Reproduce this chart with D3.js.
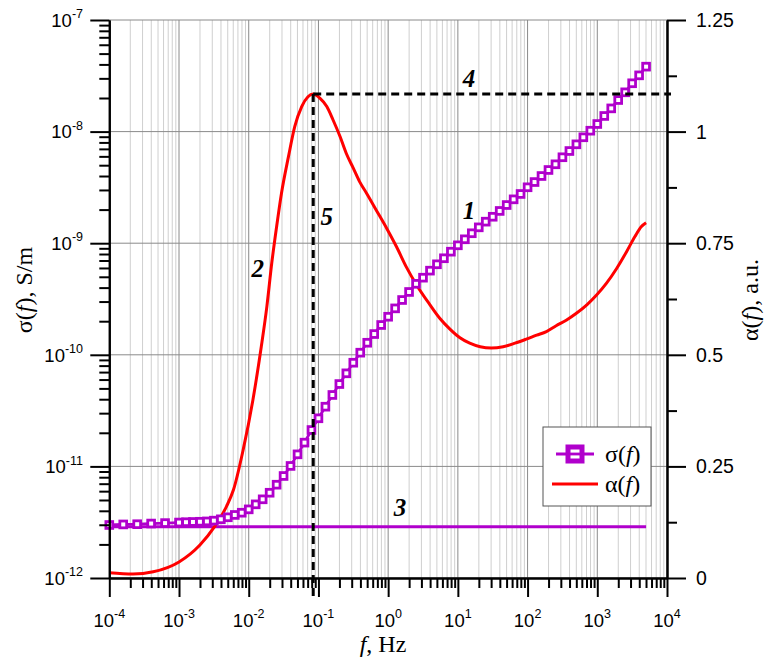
<!DOCTYPE html>
<html><head><meta charset="utf-8">
<script src="https://cdn.jsdelivr.net/npm/d3@7"></script>
<style>body{margin:0;background:#fff}</style>
</head><body>
<svg id="c" width="765" height="658"></svg>
<script>
// ---------------- data ----------------
// sigma(f): log10 of frequency (Hz) and log10 of conductivity (S/m)
const sigmaLogF = [-4,-3.8,-3.6,-3.4,-3.2,-3.0,-2.9,-2.8,-2.7,-2.6,-2.5,-2.4,-2.3,-2.2,-2.1,-2.0,-1.9,-1.8,-1.7,-1.6,-1.5,-1.4,-1.3,-1.2,-1.1,-1.0,-0.9,-0.8,-0.7,-0.6,-0.5,-0.4,-0.3,-0.2,-0.1,0.0,0.1,0.2,0.3,0.4,0.5,0.6,0.7,0.8,0.9,1.0,1.1,1.2,1.3,1.4,1.5,1.6,1.7,1.8,1.9,2.0,2.1,2.2,2.3,2.4,2.5,2.6,2.7,2.8,2.9,3.0,3.1,3.2,3.3,3.4,3.5,3.6,3.7];
const sigmaLogS = [-11.525,-11.520,-11.518,-11.512,-11.508,-11.503,-11.500,-11.498,-11.496,-11.493,-11.486,-11.474,-11.456,-11.435,-11.415,-11.385,-11.340,-11.295,-11.236,-11.164,-11.086,-10.996,-10.892,-10.787,-10.674,-10.569,-10.465,-10.360,-10.262,-10.166,-10.071,-9.981,-9.892,-9.814,-9.733,-9.659,-9.584,-9.509,-9.437,-9.364,-9.309,-9.246,-9.189,-9.135,-9.076,-9.019,-8.965,-8.911,-8.858,-8.807,-8.763,-8.711,-8.658,-8.607,-8.559,-8.499,-8.452,-8.398,-8.344,-8.293,-8.230,-8.174,-8.114,-8.051,-7.992,-7.932,-7.860,-7.792,-7.717,-7.648,-7.567,-7.496,-7.418];
// DC conductivity level (line 3)
const sigmaDcLogS = -11.54;
const sigmaDcLogF = [-4, 3.7];
// alpha(f): log10 frequency and alpha value (a.u.)
const alphaLogF = [-4.0,-3.66,-3.37,-3.0,-2.70,-2.49,-2.32,-2.22,-2.08,-1.94,-1.82,-1.74,-1.67,-1.60,-1.53,-1.43,-1.34,-1.24,-1.15,-1.075,-0.98,-0.88,-0.79,-0.69,-0.60,-0.50,-0.41,-0.31,-0.17,-0.02,0.12,0.26,0.41,0.60,0.74,0.89,1.03,1.17,1.32,1.48,1.65,1.82,1.98,2.13,2.27,2.41,2.56,2.70,2.85,2.99,3.13,3.28,3.42,3.54,3.63,3.70];
const alphaVal = [0.012,0.009,0.014,0.036,0.074,0.115,0.160,0.197,0.287,0.399,0.518,0.608,0.705,0.787,0.862,0.944,1.011,1.056,1.078,1.084,1.075,1.056,1.026,0.989,0.951,0.918,0.888,0.862,0.824,0.783,0.742,0.697,0.656,0.612,0.582,0.557,0.538,0.526,0.518,0.515,0.518,0.526,0.535,0.544,0.552,0.565,0.578,0.593,0.612,0.634,0.660,0.694,0.731,0.765,0.787,0.796];
// peak marker (lines 4 and 5)
const peakLogF = -1.075;
const peakAlpha = 1.084;
// tick labels
const xExps = [-4,-3,-2,-1,0,1,2,3,4];
const yExps = [-12,-11,-10,-9,-8,-7];
const rTicks = [0,0.25,0.5,0.75,1,1.25];
const rTickLabels = ["0","0.25","0.5","0.75","1","1.25"];
const rMinor = [0.125,0.375,0.625,0.875,1.125];
// curve labels
const curveLabels = [
  {t:"1", lf:1.16, a:0.824},
  {t:"2", lf:-1.87, a:0.694},
  {t:"3", lf:0.17, a:0.157},
  {t:"4", lf:1.16, a:1.12},
  {t:"5", lf:-0.88, a:0.809}
];

// ---------------- chart ----------------
const svg = d3.select("#c");
const L = 109.3, R = 667, T = 20, B = 578;
const x = d3.scaleLog().domain([1e-4, 1e4]).range([L, R]);
const yL = d3.scaleLog().domain([1e-12, 1e-7]).range([B, T]);
const yR = d3.scaleLinear().domain([0, 1.25]).range([B, T]);
const P = e => Math.pow(10, e);
const purple = "#b000cc";
const sans = "'Liberation Sans', Arial, sans-serif";
const serif = "'Liberation Serif', 'Times New Roman', serif";

const xMinor = [];
for (let e = -4; e < 4; e++) for (let m = 2; m <= 9; m++) xMinor.push(m * P(e));
const yMinor = [];
for (let e = -12; e < -7; e++) for (let m = 2; m <= 9; m++) yMinor.push(m * P(e));
const xMajor = xExps.map(P);
const yMajor = yExps.map(P);

// grid
const g = svg.append("g");
g.selectAll(".vmin").data(xMinor).join("line")
  .attr("x1", d => x(d)).attr("x2", d => x(d)).attr("y1", T).attr("y2", B)
  .attr("stroke", "#cfcfcf").attr("stroke-width", 1);
g.selectAll(".vmaj").data(xMajor).join("line")
  .attr("x1", d => x(d)).attr("x2", d => x(d)).attr("y1", T).attr("y2", B)
  .attr("stroke", "#8a8a8a").attr("stroke-width", 1);
g.selectAll(".hmaj").data(yMajor).join("line")
  .attr("x1", L).attr("x2", R).attr("y1", d => yL(d)).attr("y2", d => yL(d))
  .attr("stroke", "#8a8a8a").attr("stroke-width", 1);

// DC line (3)
svg.append("line")
  .attr("x1", x(P(sigmaDcLogF[0]))).attr("x2", x(P(sigmaDcLogF[1])))
  .attr("y1", yL(P(sigmaDcLogS))).attr("y2", yL(P(sigmaDcLogS)))
  .attr("stroke", purple).attr("stroke-width", 3);

// alpha curve
const aPts = alphaLogF.map((lf, i) => [x(P(lf)), yR(alphaVal[i])]);
svg.append("path").attr("d", d3.line().curve(d3.curveMonotoneX)(aPts))
  .attr("fill", "none").attr("stroke", "#ff0000").attr("stroke-width", 3);

// sigma curve
const sPts = sigmaLogF.map((lf, i) => [x(P(lf)), yL(P(sigmaLogS[i]))]);
svg.append("path").attr("d", d3.line()(sPts))
  .attr("fill", "none").attr("stroke", purple).attr("stroke-width", 2.8);
svg.selectAll(".mk").data(sPts).join("rect")
  .attr("x", d => d[0] - 3.4).attr("y", d => d[1] - 3.4)
  .attr("width", 6.8).attr("height", 6.8)
  .attr("fill", "#fff").attr("stroke", purple).attr("stroke-width", 2.8);

// dashed peak lines (4, 5)
const px = x(P(peakLogF)), py = yR(peakAlpha);
svg.append("line").attr("x1", px).attr("x2", px).attr("y1", py).attr("y2", B + 19)
  .attr("stroke", "#000").attr("stroke-width", 3).attr("stroke-dasharray", "8,5");
svg.append("line").attr("x1", px).attr("x2", R + 4).attr("y1", py).attr("y2", py)
  .attr("stroke", "#000").attr("stroke-width", 3).attr("stroke-dasharray", "8,5");

// axes
function axisPair(axisFn, scale, major, minor, transform) {
  const a1 = svg.append("g").attr("transform", transform)
    .call(axisFn(scale).tickValues(major).tickSize(19).tickSizeOuter(0).tickFormat(""));
  const a2 = svg.append("g").attr("transform", transform)
    .call(axisFn(scale).tickValues(minor).tickSize(10).tickSizeOuter(0).tickFormat(""));
  [a1, a2].forEach(a => {
    a.selectAll("line").attr("stroke", "#000").attr("stroke-width", 2);
    a.select(".domain").attr("stroke", "#000").attr("stroke-width", 2);
  });
}
axisPair(d3.axisBottom, x, xMajor, xMinor, `translate(0,${B})`);
axisPair(d3.axisLeft, yL, yMajor, yMinor, `translate(${L},0)`);
axisPair(d3.axisRight, yR, rTicks, rMinor, `translate(${R},0)`);

// tick labels
xExps.forEach(e => {
  const t = svg.append("text").attr("x", x(P(e))).attr("y", 627)
    .attr("text-anchor", "middle").attr("font-family", sans).attr("font-size", 18.5).attr("fill", "#000");
  t.append("tspan").text("10");
  t.append("tspan").attr("dy", -8.7).attr("font-size", 12.5).text(String(e));
});
yExps.forEach(e => {
  const t = svg.append("text").attr("x", 83).attr("y", yL(P(e)) + 6.8)
    .attr("text-anchor", "end").attr("font-family", sans).attr("font-size", 18.5).attr("fill", "#000");
  t.append("tspan").text("10");
  t.append("tspan").attr("dy", -8.7).attr("font-size", 12.5).text(String(e));
});
rTicks.forEach((v, i) => {
  svg.append("text").attr("x", 696).attr("y", yR(v) + 7)
    .attr("font-family", sans).attr("font-size", 19.5).attr("fill", "#000").text(rTickLabels[i]);
});

// axis titles
function rich(sel, parts) {
  parts.forEach(p => {
    const ts = sel.append("tspan").text(p[0]);
    if (p[1]) ts.attr("font-style", "italic");
  });
}
const tl = svg.append("text").attr("transform", "translate(32,290) rotate(-90)")
  .attr("text-anchor", "middle").attr("font-family", serif).attr("font-size", 24).attr("fill", "#000");
rich(tl, [["σ(", 0], ["f", 1], ["), S/m", 0]]);
const tr = svg.append("text").attr("transform", "translate(758,300) rotate(-90)")
  .attr("text-anchor", "middle").attr("font-family", serif).attr("font-size", 24).attr("fill", "#000");
rich(tr, [["α(", 0], ["f", 1], ["), a.u.", 0]]);
const tb = svg.append("text").attr("x", 383).attr("y", 652)
  .attr("text-anchor", "middle").attr("font-family", serif).attr("font-size", 24).attr("fill", "#000");
rich(tb, [["f", 1], [", Hz", 0]]);

// curve labels
curveLabels.forEach(c => {
  svg.append("text").attr("x", x(P(c.lf))).attr("y", yR(c.a) + 8.5)
    .attr("text-anchor", "middle").attr("font-family", serif).attr("font-size", 25)
    .attr("font-weight", "bold").attr("font-style", "italic").attr("fill", "#000").text(c.t);
});

// legend
const lg = svg.append("g");
lg.append("rect").attr("x", 543).attr("y", 427).attr("width", 108).attr("height", 79)
  .attr("fill", "#fff").attr("stroke", "#555").attr("stroke-width", 1);
lg.append("line").attr("x1", 556).attr("x2", 594).attr("y1", 454).attr("y2", 454)
  .attr("stroke", purple).attr("stroke-width", 2.8);
lg.append("rect").attr("x", 568).attr("y", 447).attr("width", 14).attr("height", 14)
  .attr("fill", "#fff").attr("stroke", purple).attr("stroke-width", 5);
lg.append("line").attr("x1", 568).attr("x2", 582).attr("y1", 454).attr("y2", 454)
  .attr("stroke", purple).attr("stroke-width", 2.8);
lg.append("line").attr("x1", 552).attr("x2", 598).attr("y1", 484).attr("y2", 484)
  .attr("stroke", "#ff0000").attr("stroke-width", 3);
const l1 = lg.append("text").attr("x", 605).attr("y", 462).attr("font-family", serif).attr("font-size", 24).attr("fill", "#000");
rich(l1, [["σ(", 0], ["f", 1], [")", 0]]);
const l2 = lg.append("text").attr("x", 605).attr("y", 492).attr("font-family", serif).attr("font-size", 24).attr("fill", "#000");
rich(l2, [["α(", 0], ["f", 1], [")", 0]]);
</script>
</body></html>
